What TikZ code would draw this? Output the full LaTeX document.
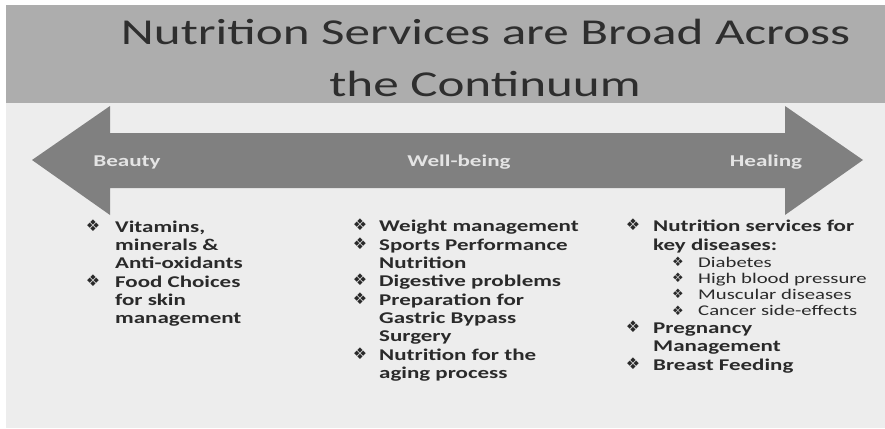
\documentclass[tikz,border=0pt]{standalone}
\usepackage{fontspec}
\setmainfont{Carlito}
\newfontfamily\titlefont[FakeStretch=1.4]{Carlito}
\newfontfamily\bodyfont[FakeStretch=1.4]{Carlito}
\newfontfamily\symfont{DejaVu Sans}
\definecolor{bandgray}{HTML}{ADADAD}
\definecolor{lightbg}{HTML}{EDEDED}
\definecolor{arrowgray}{HTML}{808080}
\definecolor{titlegray}{HTML}{2E2E2E}
\definecolor{labelgray}{HTML}{E4E4E4}
\definecolor{textdark}{HTML}{2A2A2A}
\begin{document}
\begin{tikzpicture}[x=1pt,y=-1pt,
  titletxt/.style={font=\titlefont\fontsize{36.5}{36.5}\selectfont, text=titlegray, inner sep=0pt, anchor=base},
  lab/.style={font=\bodyfont\bfseries\fontsize{16.5}{16.5}\selectfont, text=labelgray, inner sep=0pt, anchor=base},
  item/.style={font=\bodyfont\bfseries\fontsize{16.4}{16.4}\selectfont, text=textdark, inner sep=0pt, anchor=base west},
  subitem/.style={font=\bodyfont\fontsize{14.8}{14.8}\selectfont, text=textdark, inner sep=0pt, anchor=base west},
  bul/.style={font=\symfont\fontsize{16}{16}\selectfont, text=textdark, inner sep=0pt, anchor=center},
  subbul/.style={font=\symfont\fontsize{13}{13}\selectfont, text=textdark, inner sep=0pt, anchor=center}
]
\useasboundingbox (0,0) rectangle (885,428);
\fill[white] (0,0) rectangle (885,428);
\fill[bandgray] (6,5) rectangle (885,103);
\fill[lightbg] (6,103) rectangle (885,428);
% title
\node[titletxt] (t1) at (485.5,45) {Nutrition Services are Broad Across};
\node[titletxt] (t2) at (485,96) {the Continuum};
% double arrow
\fill[arrowgray] (32,160) -- (110,106) -- (110,133) -- (785,133) -- (785,106)
  -- (863,160) -- (785,215) -- (785,188) -- (110,188) -- (110,215) -- cycle;
\node[lab] (beauty) at (127,166) {Beauty};
\node[lab] (well) at (459,166) {Well-being};
\node[lab] (heal) at (766,166) {Healing};
% left column
\node[bul] (lb1) at (93,226) {❖};
\node[item] (l1) at (115,232) {Vitamins,};
\node[item] (l2) at (115,250.5) {minerals \&};
\node[item] (l3) at (115,268.5) {Anti-oxidants};
\node[bul] (lb2) at (93,281) {❖};
\node[item] (l4) at (115,287) {Food Choices};
\node[item] (l5) at (115,305) {for skin};
\node[item] (l6) at (115,323) {management};
% middle column
\node[bul] (mb1) at (360,225) {❖};
\node[item] (m1) at (379,231) {Weight management};
\node[bul] (mb2) at (360,244) {❖};
\node[item] (m2) at (379,250) {Sports Performance};
\node[item] (m3) at (379,268) {Nutrition};
\node[bul] (mb3) at (360,280) {❖};
\node[item] (m4) at (379,286) {Digestive problems};
\node[bul] (mb4) at (360,299) {❖};
\node[item] (m5) at (379,305) {Preparation for};
\node[item] (m6) at (379,323) {Gastric Bypass};
\node[item] (m7) at (379,341.5) {Surgery};
\node[bul] (mb5) at (360,354) {❖};
\node[item] (m8) at (379,360) {Nutrition for the};
\node[item] (m9) at (379,378) {aging process};
% right column
\node[bul] (rb1) at (633,225) {❖};
\node[item] (r1) at (653,231) {Nutrition services for};
\node[item] (r2) at (653,250) {key diseases:};
\node[subbul] (sb1) at (678,262) {❖};
\node[subitem] (s1) at (698,267) {Diabetes};
\node[subbul] (sb2) at (678,278) {❖};
\node[subitem] (s2) at (698,283) {High blood pressure};
\node[subbul] (sb3) at (678,294) {❖};
\node[subitem] (s3) at (698,299) {Muscular diseases};
\node[subbul] (sb4) at (678,310.5) {❖};
\node[subitem] (s4) at (698,315.5) {Cancer side-effects};
\node[bul] (rb2) at (633,327) {❖};
\node[item] (r3) at (653,333) {Pregnancy};
\node[item] (r4) at (653,351.5) {Management};
\node[bul] (rb3) at (633,364) {❖};
\node[item] (r5) at (653,370) {Breast Feeding};
\end{tikzpicture}
\end{document}
